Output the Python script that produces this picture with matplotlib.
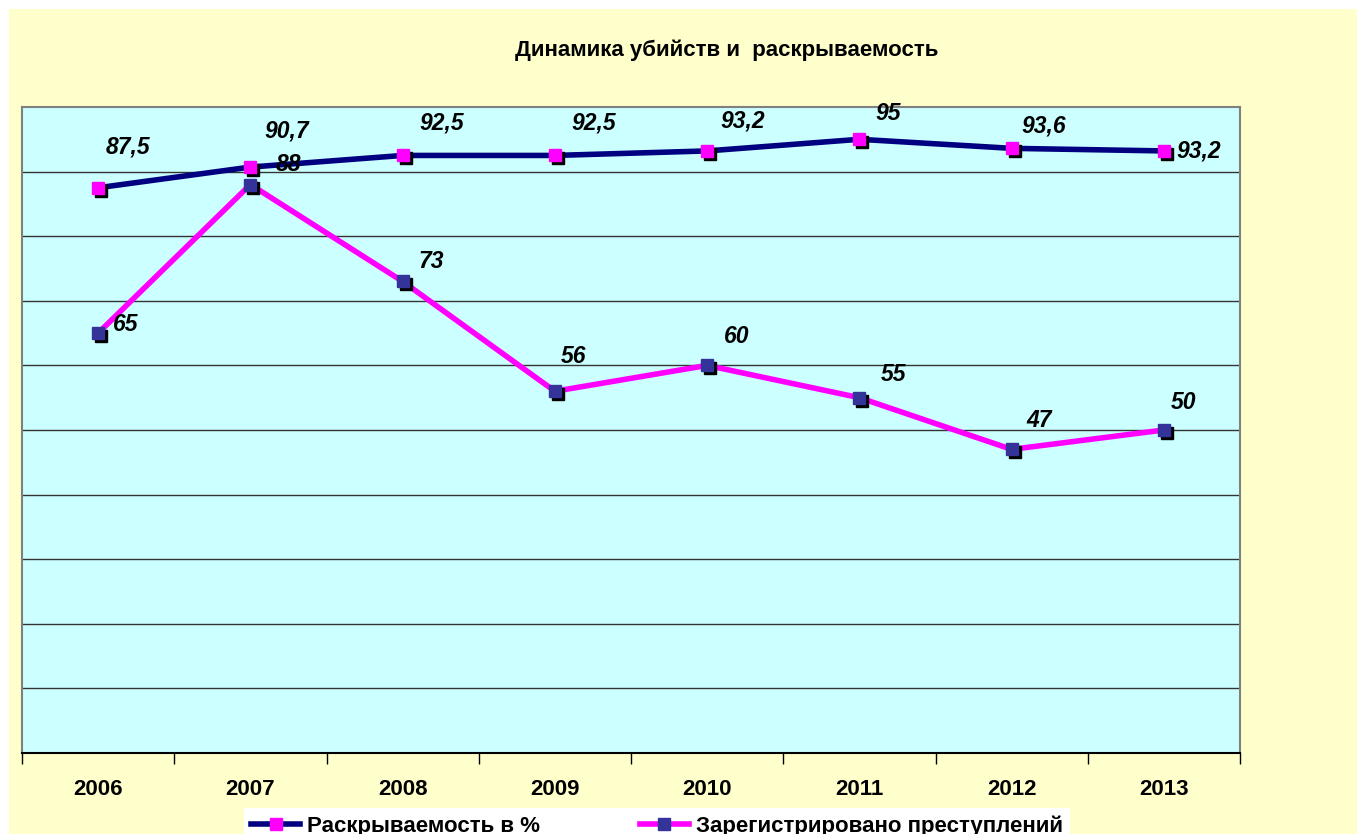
import matplotlib
matplotlib.use('Agg')
import matplotlib.pyplot as plt
from matplotlib.lines import Line2D
import matplotlib.transforms as mtransforms

plt.rcParams['font.family'] = ['Liberation Sans', 'DejaVu Sans']

years = ['2006', '2007', '2008', '2009', '2010', '2011', '2012', '2013']
solved_pct = [87.5, 90.7, 92.5, 92.5, 93.2, 95, 93.6, 93.2]
registered = [65, 88, 73, 56, 60, 55, 47, 50]

# label offsets (pixels)
solved_off = [(30, 41), (36, 36), (39, 32), (39, 32), (36, 30), (29, 26), (32, 22), (35, 0)]
reg_off = [(28, 9), (38, 20), (29, 20), (19, 35), (30, 29), (34, 23), (27, 29), (20, 28)]

NAVY = '#000080'
MAGENTA = '#FF00FF'
BLUE_MK = '#333399'

fig = plt.figure(figsize=(13.57, 8.34), dpi=100)
fig.patch.set_facecolor('white')
# yellow chart area (with thin white margin top/left)
fig.patches.append(plt.Rectangle((9 / 1357, 0), 1, 1 - 9 / 834, transform=fig.transFigure,
                                 facecolor='#FFFFCC', edgecolor='none', zorder=-10))

ax = fig.add_axes([22 / 1357, 1 - 753 / 834, (1240 - 22) / 1357, (753 - 107) / 834])
ax.set_facecolor('#CCFFFF')

x = list(range(len(years)))
shadow = mtransforms.offset_copy(ax.transData, fig=fig, x=3, y=-3, units='dots')

for vals, lc, mc in [(solved_pct, NAVY, MAGENTA), (registered, MAGENTA, BLUE_MK)]:
    ax.plot(x, vals, color=lc, lw=4, zorder=3, solid_capstyle='butt')
    ax.plot(x, vals, ls='none', marker='s', ms=8.5, color='black', transform=shadow, zorder=4)
    ax.plot(x, vals, ls='none', marker='s', ms=8.5, color=mc, zorder=5)

for vals, offs in [(solved_pct, solved_off), (registered, reg_off)]:
    for i, (v, (dx, dy)) in enumerate(zip(vals, offs)):
        lab = ('%g' % v).replace('.', ',')
        ax.annotate(lab, (i, v), xytext=(dx, dy), textcoords='offset pixels',
                    ha='center', va='center', fontsize=16.5, fontweight='bold',
                    fontstyle='italic', zorder=6)

ax.set_xlim(-0.5, len(years) - 0.5)
ax.set_ylim(0, 100)
ax.set_yticks(range(10, 100, 10))
ax.yaxis.grid(True, color='#333333', lw=1)
ax.set_axisbelow(True)
ax.tick_params(axis='y', length=0, labelleft=False)

ax.set_xticks([i - 0.5 for i in range(len(years) + 1)])
ax.set_xticklabels([])
ax.set_xticks(x, minor=True)
ax.set_xticklabels(years, minor=True, fontsize=16, fontweight='bold')
ax.tick_params(axis='x', which='major', length=8, width=1, direction='out', color='black')
ax.tick_params(axis='x', which='minor', length=0, pad=19)

for side in ['left', 'top', 'right']:
    ax.spines[side].set_color('#808080')
    ax.spines[side].set_linewidth(1.5)
ax.spines['bottom'].set_color('black')
ax.spines['bottom'].set_linewidth(1.5)

fig.text(727 / 1357, 1 - 50 / 834, 'Динамика убийств и  раскрываемость',
         ha='center', va='center', fontsize=16, fontweight='bold')

handles = [
    Line2D([], [], color=NAVY, lw=4, marker='s', ms=8, mfc=MAGENTA, mec=MAGENTA),
    Line2D([], [], color=MAGENTA, lw=4, marker='s', ms=8, mfc=BLUE_MK, mec=BLUE_MK),
]
leg = fig.legend(handles, ['Раскрываемость в %', 'Зарегистрировано преступлений'],
                 loc='upper center', bbox_to_anchor=(657 / 1357, 1 - 808 / 834), ncol=2,
                 frameon=True, fancybox=False, facecolor='white', edgecolor='none',
                 framealpha=1, prop={'size': 16, 'weight': 'bold'},
                 handlelength=2.2, handletextpad=0.3, columnspacing=4.5,
                 borderaxespad=0, borderpad=0.35)

fig.savefig('out.png', dpi=100)
